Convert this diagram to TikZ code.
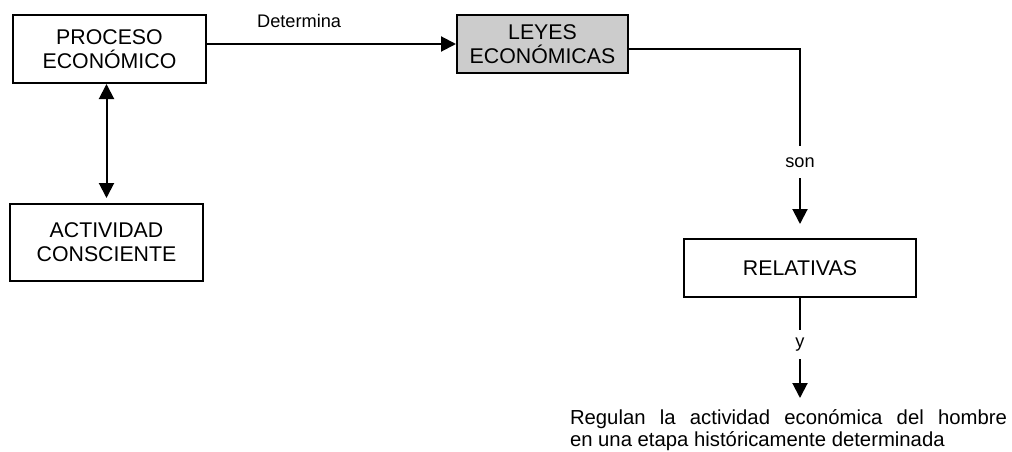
\documentclass[tikz,border=0pt]{standalone}
\usepackage{fontspec}
\setmainfont{Liberation Sans}
\usepackage{xcolor}
\usepackage{tikz}
\usetikzlibrary{positioning,arrows.meta}
\setlength{\parindent}{0pt}

\begin{document}
\begin{tikzpicture}[x=1pt, y=1pt, line width=2pt, >={Triangle[length=15pt,width=15pt]},
        caja/.style = {draw, align=center, inner sep=2pt, font=\fontsize{21.3}{24}\selectfont},
        rotulo/.style = {inner xsep=2pt, font=\fontsize{18.2}{20}\selectfont}]
        \useasboundingbox (0,0) rectangle (1012,-452);
        \node[caja, minimum width=193pt, minimum height=68pt] (proceso) at (109.5,-49) {PROCESO\\ECONÓMICO};
        \node[caja, minimum width=193pt, minimum height=77pt] (actividad) [below=119pt of proceso, xshift=-3pt] {ACTIVIDAD\\CONSCIENTE};
        \node[caja, fill=gray!40, minimum width=171pt, minimum height=58pt] (leyes) [right=249pt of proceso, yshift=5pt] {LEYES\\ECONÓMICAS};
        \node[caja, minimum width=232pt, minimum height=58pt] (relativas) [below=164pt of leyes, xshift=257.5pt] {RELATIVAS};
        \node[text width=437pt, align=justify, inner sep=0pt, font=\fontsize{20.3}{22}\selectfont] (regulan) [below=111pt of relativas, xshift=-11.5pt] {Regulan la actividad económica del hombre\linebreak en una etapa históricamente determinada};
        \draw[<->, shorten >=5pt] (proceso.south -| actividad.north) -- (actividad.north);
        \draw[->] (proceso.east |- leyes.west) -- node[rotulo, inner ysep=0pt, above=15pt, pos=0.37] {Determina} (leyes.west);
        \draw[->, shorten >=14pt] ([yshift=-5pt]leyes.east) -| node[rotulo, fill=white, inner ysep=11pt, pos=0.8] {son} (relativas.north);
        \draw[->, shorten >=11pt] (relativas.south) -- node[rotulo, fill=white, inner ysep=8pt, pos=0.42] {y} (relativas.south |- regulan.north);
    \end{tikzpicture}
\end{document}
